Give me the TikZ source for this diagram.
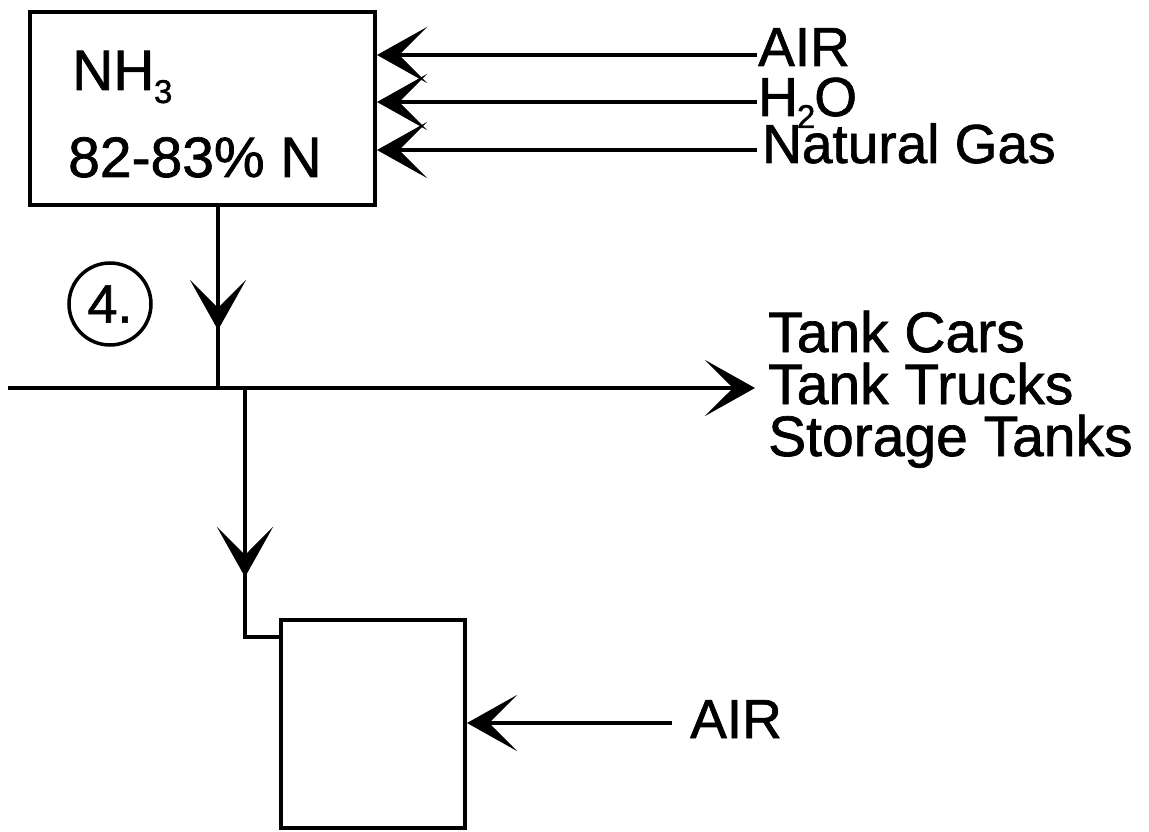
\documentclass[tikz,border=0pt]{standalone}
\usepackage{fontspec}
\setmainfont{Liberation Sans}[FakeBold=1.2]
\usetikzlibrary{arrows.meta}
\begin{document}
\begin{tikzpicture}[x=1pt,y=-1pt,
  lbl/.style={inner sep=0pt, anchor=base west, font=\fontsize{55}{55}\selectfont},
  tanklbl/.style={inner sep=0pt, anchor=base west, font=\fontsize{57}{57}\selectfont},
  boxlbl/.style={inner sep=0pt, anchor=base west, font=\fontsize{57}{57}\selectfont},
  unit/.style={draw, line width=4pt, inner sep=0pt},
  flow/.style={line width=3.8pt},
  head/.style={-{Stealth[length=50pt,width=56pt,inset=28pt]}}]
\useasboundingbox (0,0) rectangle (1149,832);
% boxes
\node[unit, minimum width=345pt, minimum height=193pt] (b1) at (202.5,108.5) {};
\node[unit, minimum width=184pt, minimum height=208pt] (b2) at (373,724) {};
% texts in top box
\node[boxlbl] (nh3) at (72,90) {NH\kern-0.5pt\raisebox{-13pt}{\fontsize{33}{33}\selectfont 3}};
\node[boxlbl] (pct) at (68,177) {82-83\% N};
% top inputs
\coordinate (a1) at (757,55);
\coordinate (a2) at (757,102);
\coordinate (a3) at (757,150);
\draw[flow, head] (a1) -- (b1.east |- a1);
\draw[flow, head] (a2) -- (b1.east |- a2);
\draw[flow, head] (a3) -- (b1.east |- a3);
\node[lbl] (air1) at (758,66) {AIR};
\node[lbl] (h2o) at (758,116) {H\kern-1pt\raisebox{-12pt}{\fontsize{33}{33}\selectfont 2}\kern-1pt O};
\node[lbl] (ng) at (762,163) {Natural Gas};
% down from box 1
\coordinate (j1) at (218,388);
\coordinate (t1) at (218,330);
\draw[flow] (b1.south -| j1) -- (j1);
\draw[flow, head] (b1.south -| j1) -- (t1);
\node[draw, circle, line width=3.5pt, minimum size=82pt, inner sep=0pt,
      font=\fontsize{54}{54}\selectfont] (c4) at (110,304) {4.};
% main horizontal
\coordinate (hs) at (8,388);
\coordinate (he) at (755,388);
\draw[flow, head] (hs) -- (he);
\node[tanklbl] (tc) at (768,352) {Tank Cars};
\node[tanklbl] (tt) at (768,404) {Tank Trucks};
\node[tanklbl] (st) at (768,456) {Storage Tanks};
% branch to lower box
\coordinate (j2) at (245,388);
\coordinate (t2) at (245,577);
\coordinate (k) at (245,637);
\draw[flow] (j2) -- (k) -- (b2.west |- k);
\draw[flow, head] (j2) -- (t2);
% lower air input
\coordinate (la) at (672,723);
\draw[flow, head] (la) -- (b2.east |- la);
\node[lbl] (air2) at (690,738) {AIR};
\end{tikzpicture}
\end{document}
